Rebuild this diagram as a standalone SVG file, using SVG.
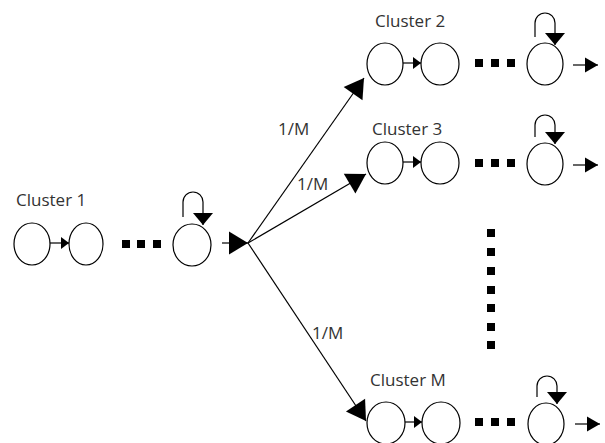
<svg xmlns="http://www.w3.org/2000/svg" width="605" height="443" viewBox="0 0 605 443">
<style>
.n{fill:#fff;stroke:#000;stroke-width:1.2}
.l{fill:none;stroke:#000;stroke-width:1.2}
.d{fill:#000}
.t{font-family:"Open Sans","Liberation Sans",sans-serif;font-size:17px;fill:#333}
</style>
<defs>
<marker id="s" markerUnits="userSpaceOnUse" markerWidth="10" markerHeight="14" viewBox="0 0 10 14" refX="9" refY="7" orient="auto"><path d="M1,1 L9,7 L1,13 Z" fill="#000"/></marker>
<marker id="lp" markerUnits="userSpaceOnUse" markerWidth="14" markerHeight="22" viewBox="0 0 14 22" refX="13" refY="11" orient="auto"><path d="M1,1 L13,11 L1,21 Z" fill="#000"/></marker>
<marker id="o" markerUnits="userSpaceOnUse" markerWidth="15" markerHeight="17" viewBox="0 0 15 17" refX="14" refY="8.5" orient="auto"><path d="M1,1 L14,8.5 L1,16 Z" fill="#000"/></marker>
<marker id="b" markerUnits="userSpaceOnUse" markerWidth="22" markerHeight="26" viewBox="0 0 22 26" refX="20" refY="13" orient="auto"><path d="M1,1.5 L20,13 L1,24.5 Z" fill="#000"/></marker>
</defs>
<rect width="605" height="443" fill="#fff"/>
<g id="connectors">
<line class="l" x1="50" y1="243" x2="69" y2="243" marker-end="url(#s)"/>
<path class="l" d="M183,217 L183,202 A10,10 0 0 1 203,202 L203,225" marker-end="url(#lp)"/>
<line class="l" x1="222" y1="243" x2="248" y2="243" marker-end="url(#b)"/>
<line class="l" x1="248" y1="243" x2="364" y2="78" marker-end="url(#b)"/>
<line class="l" x1="248" y1="243" x2="366" y2="174" marker-end="url(#b)"/>
<line class="l" x1="248" y1="243" x2="366" y2="421" marker-end="url(#b)"/>
<line class="l" x1="403" y1="63" x2="421" y2="63" marker-end="url(#s)"/>
<path class="l" d="M535,37 L535,23 A10,10 0 0 1 555,23 L555,45" marker-end="url(#lp)"/>
<line class="l" x1="573" y1="65" x2="598" y2="65" marker-end="url(#o)"/>
<line class="l" x1="403" y1="162" x2="421" y2="162" marker-end="url(#s)"/>
<path class="l" d="M535,137 L535,125 A10,10 0 0 1 555,125 L555,144" marker-end="url(#lp)"/>
<line class="l" x1="573" y1="165" x2="598" y2="165" marker-end="url(#o)"/>
<line class="l" x1="405" y1="422" x2="422" y2="422" marker-end="url(#s)"/>
<path class="l" d="M537,397 L537,386 A10,10 0 0 1 557,386 L557,404" marker-end="url(#lp)"/>
<line class="l" x1="575" y1="424" x2="600" y2="424" marker-end="url(#o)"/>
</g>
<text class="t" x="16" y="206">Cluster 1</text>
<text class="t" x="375" y="27">Cluster 2</text>
<text class="t" x="372" y="135">Cluster 3</text>
<text class="t" x="370" y="386">Cluster M</text>
<text class="t" x="278" y="135">1/M</text>
<text class="t" x="297" y="190">1/M</text>
<text class="t" x="312" y="339">1/M</text>
<g id="c1n1"><ellipse class="n" cx="32" cy="244" rx="18" ry="21"/></g>
<g id="c1n2"><ellipse class="n" cx="86" cy="244" rx="17" ry="21"/></g>
<g id="c1n3"><ellipse class="n" cx="192" cy="245" rx="19" ry="21"/></g>
<g id="c1dots"><rect class="d" x="122" y="240" width="8" height="8"/><rect class="d" x="137" y="240" width="8" height="8"/><rect class="d" x="153" y="240" width="8" height="8"/></g>
<g id="c2n1"><ellipse class="n" cx="385" cy="64" rx="18" ry="21"/></g>
<g id="c2n2"><ellipse class="n" cx="440" cy="64" rx="19" ry="21"/></g>
<g id="c2n3"><ellipse class="n" cx="545" cy="64" rx="18" ry="21"/></g>
<g id="c2dots"><rect class="d" x="475" y="59" width="8" height="8"/><rect class="d" x="491" y="59" width="8" height="8"/><rect class="d" x="507" y="59" width="8" height="8"/></g>
<g id="c3n1"><ellipse class="n" cx="385" cy="163" rx="18" ry="21"/></g>
<g id="c3n2"><ellipse class="n" cx="440" cy="163" rx="19" ry="21"/></g>
<g id="c3n3"><ellipse class="n" cx="545" cy="164" rx="18" ry="21"/></g>
<g id="c3dots"><rect class="d" x="475" y="159" width="8" height="8"/><rect class="d" x="491" y="159" width="8" height="8"/><rect class="d" x="507" y="159" width="8" height="8"/></g>
<g id="cMn1"><ellipse class="n" cx="386" cy="423" rx="19" ry="21"/></g>
<g id="cMn2"><ellipse class="n" cx="441" cy="423" rx="19" ry="21"/></g>
<g id="cMn3"><ellipse class="n" cx="546" cy="424" rx="18" ry="21"/></g>
<g id="cMdots"><rect class="d" x="475" y="418" width="8" height="8"/><rect class="d" x="491" y="418" width="8" height="8"/><rect class="d" x="507" y="418" width="8" height="8"/></g>
<g id="vdots"><rect class="d" x="487" y="229" width="8" height="8"/><rect class="d" x="487" y="248" width="8" height="8"/><rect class="d" x="487" y="267" width="8" height="8"/><rect class="d" x="487" y="286" width="8" height="8"/><rect class="d" x="487" y="304" width="8" height="8"/><rect class="d" x="487" y="323" width="8" height="8"/><rect class="d" x="487" y="341" width="8" height="8"/></g>
</svg>
